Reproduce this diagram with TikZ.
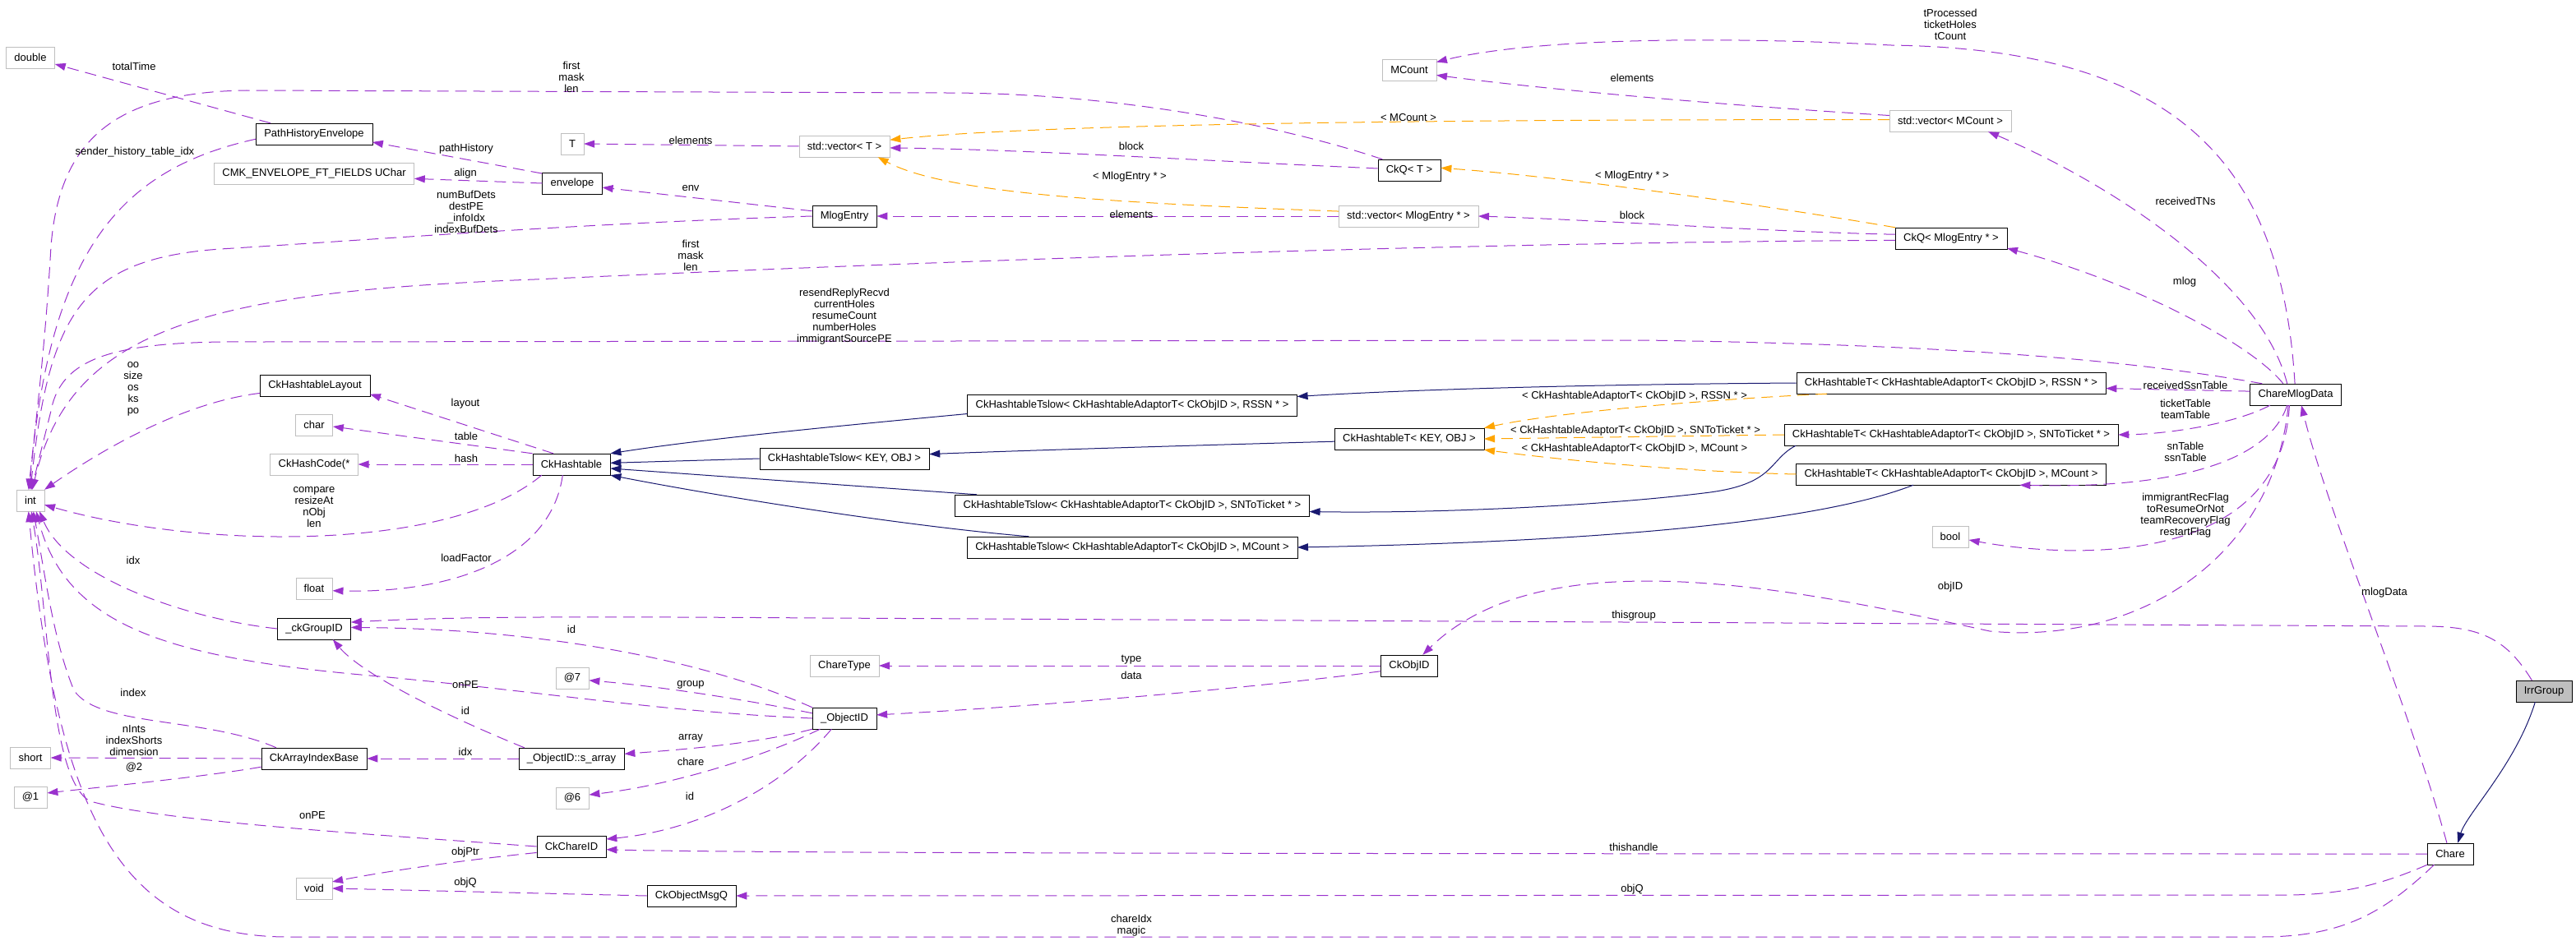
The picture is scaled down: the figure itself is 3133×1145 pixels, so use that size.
\documentclass[tikz,border=0pt]{standalone}
\usepackage{fontspec}
\setmainfont{Liberation Sans}
\usetikzlibrary{arrows.meta}
\definecolor{usecol}{HTML}{9A32CD}
\definecolor{tplcol}{HTML}{FFA500}
\definecolor{inhcol}{HTML}{191970}
\definecolor{extcol}{HTML}{BFBFBF}
\begin{document}
\begin{tikzpicture}[x=1pt, y=-1pt, font=\fontsize{13}{14}\selectfont,
      box/.style={draw, fill=white, minimum height=26pt, inner xsep=10pt, inner ysep=0pt},
      cls/.style={box, draw=black},
      ext/.style={box, draw=extcol},
      leaf/.style={box, draw=black, fill=extcol},
      lbl/.style={align=center, inner sep=0pt},
      use/.style={draw=usecol, line width=1pt, dash pattern=on 14pt off 8pt, -{Triangle[length=13pt,width=9pt]}},
      tpl/.style={use, draw=tplcol},
      inh/.style={draw=inhcol, line width=1pt, -{Triangle[length=13pt,width=9pt]}}]
    \useasboundingbox (0,0) rectangle (3133,1145);
    % classes
    \node[ext] (double) at (37,70) {double};
    \node[cls] (phe) at (382,163) {PathHistoryEnvelope};
    \node[ext] (cmk) at (382,211) {CMK\_ENVELOPE\_FT\_FIELDS UChar};
    \node[ext] (T) at (696,175) {T};
    \node[cls] (env) at (696,223) {envelope};
    \node[ext] (vecT) at (1027,178) {std::vector< T >};
    \node[cls] (mlogentry) at (1027,263) {MlogEntry};
    \node[ext] (mcount) at (1714,85) {MCount};
    \node[cls] (ckqT) at (1714,207) {CkQ< T >};
    \node[ext] (vecML) at (1713,263) {std::vector< MlogEntry * >};
    \node[ext] (vecMC) at (2372,147) {std::vector< MCount >};
    \node[cls] (ckqML) at (2373,290) {CkQ< MlogEntry * >};
    \node[cls] (cmd) at (2792,480) {ChareMlogData};
    \node[cls] (htRSSN) at (2373,466) {CkHashtableT< CkHashtableAdaptorT< CkObjID >, RSSN * >};
    \node[cls] (htSN) at (2373,529) {CkHashtableT< CkHashtableAdaptorT< CkObjID >, SNToTicket * >};
    \node[cls] (htMC) at (2373,577) {CkHashtableT< CkHashtableAdaptorT< CkObjID >, MCount >};
    \node[ext] (bool) at (2372,653) {bool};
    \node[cls] (htKO) at (1714,534) {CkHashtableT< KEY, OBJ >};
    \node[cls] (tsRSSN) at (1377,493) {CkHashtableTslow< CkHashtableAdaptorT< CkObjID >, RSSN * >};
    \node[cls] (tsKO) at (1027,558) {CkHashtableTslow< KEY, OBJ >};
    \node[cls] (tsSN) at (1377,615) {CkHashtableTslow< CkHashtableAdaptorT< CkObjID >, SNToTicket * >};
    \node[cls] (tsMC) at (1377,666) {CkHashtableTslow< CkHashtableAdaptorT< CkObjID >, MCount >};
    \node[cls] (ckht) at (695,565) {CkHashtable};
    \node[cls] (layout) at (383,469) {CkHashtableLayout};
    \node[ext] (char) at (382,517) {char};
    \node[ext] (hash) at (382,565) {CkHashCode(*};
    \node[ext] (int) at (37,609) {int};
    \node[ext] (float) at (382,716) {float};
    \node[cls] (gid) at (382,765) {\_ckGroupID};
    \node[ext] (short) at (37,922) {short};
    \node[ext] (at1) at (37,970) {@1};
    \node[cls] (aib) at (382,923) {CkArrayIndexBase};
    \node[ext] (void) at (382,1081) {void};
    \node[cls] (sarr) at (695,923) {\_ObjectID::s\_array};
    \node[cls] (oid) at (1027,874) {\_ObjectID};
    \node[ext] (at7) at (696,825) {@7};
    \node[ext] (at6) at (696,971) {@6};
    \node[cls] (cid) at (695,1030) {CkChareID};
    \node[cls] (msgq) at (841,1090) {CkObjectMsgQ};
    \node[ext] (ctype) at (1027,810) {ChareType};
    \node[cls] (objid) at (1714,810) {CkObjID};
    \node[cls] (chare) at (2980,1039) {Chare};
    \node[leaf] (irr) at (3094,841) {IrrGroup};
    % members
    \draw[use] (phe.166) -- (double.-15);
    \draw[use] (phe.185) .. controls (150,205) and (60,300) .. (int.95);
    \draw[use] (env.162) -- (phe.-8);
    \draw[use] (env.west) -- (cmk.-3);
    \draw[use] (mlogentry.171) -- (env.-8);
    \draw[use] (mlogentry.west) .. controls (700,272) and (450,292) .. (268,303) .. controls (100,315) and (60,380) .. (int.90);
    \draw[use] (vecT.west) -- (T.east);
    \draw[use] (ckqT.177) .. controls (1450,195) and (1250,182) .. (vecT.-2);
    \draw[use] (ckqT.158) .. controls (1550,150) and (1350,113) .. (1150,113) -- (300,110) .. controls (140,112) and (72,170) .. (62,300) .. controls (55,420) and (45,500) .. (int.100);
    \draw[tpl] (vecMC.179) .. controls (1700,145) and (1250,152) .. (vecT.8);
    \draw[tpl] (vecML.176) .. controls (1350,247) and (1150,235) .. (vecT.-18);
    \draw[use] (vecML.west) -- (mlogentry.east);
    \draw[tpl] (ckqML.north west) .. controls (2150,250) and (1900,215) .. (ckqT.4);
    \draw[use] (ckqML.176) .. controls (2150,282) and (1950,268) .. (vecML.east);
    \draw[use] (ckqML.182) .. controls (1800,295) and (1200,315) .. (650,340) .. controls (250,355) and (85,400) .. (int.80);
    \draw[use] (vecMC.175) .. controls (2050,125) and (1850,105) .. (mcount.-11);
    \draw[use] (cmd.94) .. controls (2775,200) and (2650,60) .. (2300,55) .. controls (2050,42) and (1850,50) .. (mcount.16);
    \draw[use] (cmd.128) .. controls (2750,340) and (2560,220) .. (vecMC.-16);
    \draw[use] (cmd.139) .. controls (2740,420) and (2600,345) .. (ckqML.-10);
    \draw[use] (cmd.162) .. controls (2600,440) and (2400,420) .. (2000,414) -- (320,416) .. controls (150,414) and (75,430) .. (62,500) -- (int.85);
    \draw[use] (cmd.176) -- (htRSSN.-2);
    \draw[use] (cmd.203) .. controls (2720,515) and (2640,528) .. (htSN.east);
    \draw[use] (cmd.232) .. controls (2760,560) and (2650,595) .. (htMC.-9);
    \draw[use] (cmd.240) .. controls (2775,690) and (2520,680) .. (bool.-10);
    \draw[use] (cmd.236) .. controls (2765,680) and (2600,785) .. (2420,768) .. controls (2200,720) and (1880,650) .. (objid.39);
    \draw[use] (chare.107) .. controls (2930,860) and (2830,620) .. (cmd.298);
    \draw[use] (irr.138) .. controls (3050,780) and (3020,762) .. (2950,762) -- (1000,752) .. controls (700,750) and (550,750) .. (gid.10);
    \draw[use] (oid.north west) .. controls (850,800) and (650,765) .. (gid.2);
    \draw[use] (sarr.167) .. controls (540,870) and (440,820) .. (gid.-30);
    \draw[use] (gid.west) .. controls (220,752) and (80,700) .. (int.-50);
    \draw[use] (ckht.149) -- (layout.-9);
    \draw[use] (ckht.north west) -- (char.-5);
    \draw[use] (ckht.west) -- (hash.east);
    \draw[use] (ckht.200) .. controls (550,670) and (250,670) .. (int.-17);
    \draw[use] (ckht.231) .. controls (670,680) and (550,722) .. (float.-7);
    \draw[use] (layout.188) .. controls (220,490) and (120,550) .. (int.north east);
    \draw[use] (oid.171) .. controls (900,850) and (800,835) .. (at7.-8);
    \draw[use] (oid.west) .. controls (800,866) and (650,840) .. (450,822) .. controls (200,800) and (80,760) .. (int.-62);
    \draw[use] (oid.south west) .. controls (920,905) and (830,912) .. (sarr.5);
    \draw[use] (oid.204) .. controls (930,920) and (820,955) .. (at6.11);
    \draw[use] (oid.220) .. controls (950,960) and (850,1010) .. (cid.12);
    \draw[use] (sarr.west) -- (aib.east);
    \draw[use] (objid.191) .. controls (1500,840) and (1250,860) .. (oid.6);
    \draw[use] (objid.west) -- (ctype.east);
    \draw[use] (aib.164) .. controls (250,872) and (120,885) .. (90,840) .. controls (65,780) and (55,700) .. (int.-75);
    \draw[use] (aib.west) -- (short.east);
    \draw[use] (aib.189) .. controls (250,945) and (120,958) .. (at1.14);
    \draw[use] (cid.west) .. controls (450,1015) and (200,1000) .. (110,975) .. controls (60,950) and (60,750) .. (int.-85);
    \draw[use] (cid.190) .. controls (550,1048) and (460,1062) .. (void.20);
    \draw[use] (msgq.west) -- (void.east);
    \draw[use] (chare.west) .. controls (1500,1039) and (900,1038) .. (cid.-5);
    \draw[use] (chare.south west) .. controls (2900,1075) and (2850,1089) .. (2780,1089) -- (msgq.east);
    \draw[use] (chare.214) .. controls (2900,1110) and (2850,1140) .. (2750,1140) -- (350,1140) .. controls (150,1140) and (70,1000) .. (int.-100);
    % templates
    \draw[tpl] (htRSSN.185) .. controls (2100,485) and (1900,500) .. (htKO.north east);
    \draw[tpl] (htSN.west) -- (htKO.east);
    \draw[tpl] (htMC.west) .. controls (2050,574) and (1900,560) .. (htKO.south east);
    % inheritance
    \draw[inh] (tsRSSN.183) .. controls (1000,520) and (850,535) .. (ckht.north east);
    \draw[inh] (tsKO.west) -- (ckht.2);
    \draw[inh] (tsSN.176) -- (ckht.-6);
    \draw[inh] (tsMC.174) .. controls (1100,640) and (880,605) .. (ckht.south east);
    \draw[inh] (htRSSN.west) .. controls (1900,468) and (1700,475) .. (tsRSSN.3);
    \draw[inh] (htKO.182) .. controls (1450,542) and (1250,548) .. (tsKO.3);
    \draw[inh] (htSN.184) .. controls (2150,560) and (2160,590) .. (2072,600) .. controls (1950,615) and (1750,625) .. (tsSN.-2);
    \draw[inh] (htMC.196) .. controls (2200,640) and (1900,660) .. (tsMC.east);
    \draw[inh] (irr.231) .. controls (3060,930) and (3000,990) .. (chare.55);
    % labels
    \node[lbl] (lTotalTime) at (163,81) {totalTime};
    \node[lbl] (lSender) at (164,185) {sender\_history\_table\_idx};
    \node[lbl] (lPathHistory) at (567,181) {pathHistory};
    \node[lbl] (lAlign) at (566,211) {align};
    \node[lbl] (lEnv) at (840,229) {env};
    \node[lbl] (lNumBuf) at (567,258) {numBufDets\\destPE\\\_infoIdx\\indexBufDets};
    \node[lbl] (lElemT) at (840,171) {elements};
    \node[lbl] (lBlockT) at (1376,178) {block};
    \node[lbl] (lFirstT) at (695,94) {first\\mask\\len};
    \node[lbl] (lTplMC) at (1713,143) {< MCount >};
    \node[lbl] (lTplML) at (1374,215) {< MlogEntry * >};
    \node[lbl] (lElemML) at (1376,261) {elements};
    \node[lbl] (lTplQ) at (1985,214) {< MlogEntry * >};
    \node[lbl] (lBlockML) at (1985,262) {block};
    \node[lbl] (lFirstML) at (840,311) {first\\mask\\len};
    \node[lbl] (lElemMC) at (1985,95) {elements};
    \node[lbl] (lTProc) at (2372,30) {tProcessed\\ticketHoles\\tCount};
    \node[lbl] (lRecvTN) at (2658,245) {receivedTNs};
    \node[lbl] (lMlog) at (2657,343) {mlog};
    \node[lbl] (lResend) at (1027,385) {resendReplyRecvd\\currentHoles\\resumeCount\\numberHoles\\immigrantSourcePE};
    \node[lbl] (lRecvSsn) at (2658,469) {receivedSsnTable};
    \node[lbl] (lTicket) at (2658,498) {ticketTable\\teamTable};
    \node[lbl] (lSnTable) at (2658,550) {snTable\\ssnTable};
    \node[lbl] (lFlags) at (2658,627) {immigrantRecFlag\\toResumeOrNot\\teamRecoveryFlag\\restartFlag};
    \node[lbl] (lObjID) at (2372,714) {objID};
    \node[lbl] (lMlogData) at (2900,721) {mlogData};
    \node[lbl] (lThisGroup) at (1987,749) {thisgroup};
    \node[lbl] (lIdGroup) at (695,766) {id};
    \node[lbl] (lIdArr) at (566,865) {id};
    \node[lbl] (lIdxGid) at (162,682) {idx};
    \node[lbl] (lLayout) at (566,491) {layout};
    \node[lbl] (lTable) at (567,531) {table};
    \node[lbl] (lHash) at (567,558) {hash};
    \node[lbl] (lCompare) at (382,617) {compare\\resizeAt\\nObj\\len};
    \node[lbl] (lLoad) at (567,679) {loadFactor};
    \node[lbl] (lOo) at (162,473) {oo\\size\\os\\ks\\po};
    \node[lbl] (lTplRSSN) at (1988,482) {< CkHashtableAdaptorT< CkObjID >, RSSN * >};
    \node[lbl] (lTplSN) at (1989,524) {< CkHashtableAdaptorT< CkObjID >, SNToTicket * >};
    \node[lbl] (lTplMCnt) at (1988,546) {< CkHashtableAdaptorT< CkObjID >, MCount >};
    \node[lbl] (lGroup) at (840,833) {group};
    \node[lbl] (lOnPEoid) at (566,833) {onPE};
    \node[lbl] (lArray) at (840,898) {array};
    \node[lbl] (lChare) at (840,927) {chare};
    \node[lbl] (lIdCid) at (839,969) {id};
    \node[lbl] (lIdxArr) at (566,915) {idx};
    \node[lbl] (lData) at (1376,822) {data};
    \node[lbl] (lType) at (1376,803) {type};
    \node[lbl] (lIndex) at (162,843) {index};
    \node[lbl] (lNInts) at (163,901) {nInts\\indexShorts\\dimension};
    \node[lbl] (lAt2) at (163,934) {@2};
    \node[lbl] (lOnPEcid) at (380,992) {onPE};
    \node[lbl] (lObjPtr) at (566,1037) {objPtr};
    \node[lbl] (lObjQvoid) at (566,1074) {objQ};
    \node[lbl] (lThisHandle) at (1987,1031) {thishandle};
    \node[lbl] (lObjQ) at (1985,1082) {objQ};
    \node[lbl] (lChareIdx) at (1376,1126) {chareIdx\\magic};
  \end{tikzpicture}
\end{document}
